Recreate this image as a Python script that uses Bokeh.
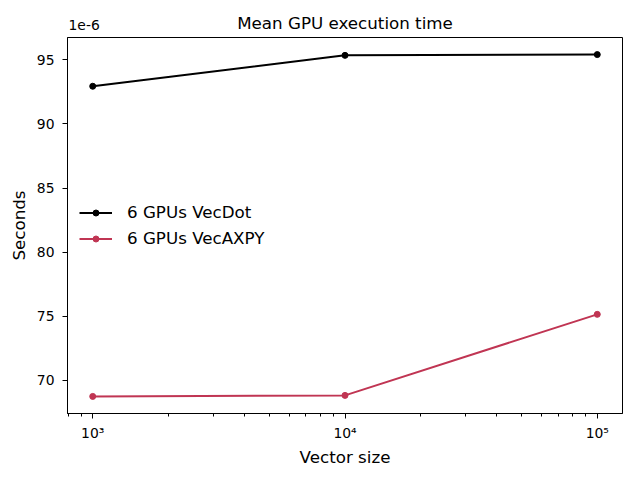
import math
from bokeh.plotting import figure
from bokeh.models import (Range1d, FixedTicker, CustomJSTickFormatter, Label,
                          Legend, LegendItem)
from bokeh.embed import file_html
from bokeh.resources import INLINE

# ---- data (values in units of 1e-6 s) ----
vector_sizes = [1000, 10000, 100000]
vecdot_times = [92.94, 95.35, 95.41]
vecaxpy_times = [68.75, 68.83, 75.15]
series_names = ["6 GPUs VecDot", "6 GPUs VecAXPY"]
series_colors = ["#000000", "#c03553"]
y_tick_values = [70, 75, 80, 85, 90, 95]
x_major_ticks = [1000, 10000, 100000]
offset_text = "1e-6"
title_text = "Mean GPU execution time"
x_label = "Vector size"
y_label = "Seconds"

FONT = "DejaVu Sans"
W, H = 640, 480
BL, BR, BT, BB = 67, 18, 37, 67

# matplotlib-like 5% margins
lx = [math.log10(v) for v in vector_sizes]
lspan = max(lx) - min(lx)
x_lo = 10 ** (min(lx) - 0.05 * lspan)
x_hi = 10 ** (max(lx) + 0.05 * lspan)
all_y = vecdot_times + vecaxpy_times
yspan = max(all_y) - min(all_y)
y_lo = min(all_y) - 0.05 * yspan
y_hi = max(all_y) + 0.05 * yspan

p = figure(width=W, height=H, x_axis_type="log",
           x_range=Range1d(x_lo, x_hi), y_range=Range1d(y_lo, y_hi),
           output_backend="svg", toolbar_location=None,
           min_border_left=BL, min_border_right=BR,
           min_border_top=BT, min_border_bottom=BB)

p.xgrid.visible = False
p.ygrid.visible = False
p.outline_line_color = "black"
p.outline_line_width = 1
p.background_fill_color = "white"
p.border_fill_color = "white"

# minor ticks at 2..9 x 10^k inside range
minor = []
for k in range(2, 6):
    for m in range(2, 10):
        v = m * 10 ** k
        if x_lo * 0.999 <= v <= x_hi:
            minor.append(v)

p.xaxis.ticker = FixedTicker(ticks=x_major_ticks, minor_ticks=minor)
p.xaxis.formatter = CustomJSTickFormatter(code="""
const sup = {'0':'\u2070','1':'\u00b9','2':'\u00b2','3':'\u00b3','4':'\u2074',
             '5':'\u2075','6':'\u2076','7':'\u2077','8':'\u2078','9':'\u2079','-':'\u207b'};
const e = Math.round(Math.log10(tick)).toString();
return '10' + e.split('').map(c => sup[c]).join('');
""")
p.yaxis.ticker = FixedTicker(ticks=y_tick_values)

for ax in (p.xaxis[0], p.yaxis[0]):
    ax.axis_line_color = "black"
    ax.major_tick_line_color = "black"
    ax.minor_tick_line_color = "black"
    ax.major_tick_in = 0
    ax.major_tick_out = 5
    ax.minor_tick_in = 0
    ax.minor_tick_out = 3
    ax.major_label_text_font = FONT
    ax.major_label_text_font_size = "13.9px"
    ax.major_label_text_color = "black"
    ax.axis_label_text_font = FONT
    ax.axis_label_text_font_size = "16.7px"
    ax.axis_label_text_font_style = "normal"
    ax.axis_label_text_color = "black"

p.yaxis.minor_tick_line_color = None
p.xaxis.axis_label = x_label
p.yaxis.axis_label = y_label
p.xaxis.major_label_standoff = 6
p.yaxis.major_label_standoff = 8
p.xaxis.axis_label_standoff = 3
p.yaxis.axis_label_standoff = 5

items = []
for name, color, ys in zip(series_names, series_colors, [vecdot_times, vecaxpy_times]):
    ln = p.line(vector_sizes, ys, line_color=color, line_width=2)
    sc = p.scatter(vector_sizes, ys, size=6, fill_color=color, line_color=color)
    items.append(LegendItem(label=name, renderers=[ln, sc]))

legend = Legend(items=items, location="left", border_line_color=None,
                background_fill_alpha=0, label_text_font=FONT,
                label_text_font_size="16.7px", label_text_color="black",
                glyph_width=33, glyph_height=15, label_standoff=15,
                label_height=20, spacing=6, padding=5, margin=12)
p.add_layout(legend)

# title and offset text in panels above the frame
frame_w = W - BL - BR
p.add_layout(Label(x=frame_w / 2, y=15, x_units="screen", y_units="screen",
                   text=title_text, text_baseline="alphabetic", text_align="center",
                   text_font=FONT, text_font_size="16.7px", text_color="black"),
             "above")
p.add_layout(Label(x=1, y=-7, x_units="screen", y_units="screen", text=offset_text,
                   text_baseline="alphabetic", text_align="left",
                   text_font=FONT, text_font_size="13.9px", text_color="black"),
             "above")

open("out.html", "w").write(file_html(p, INLINE))
